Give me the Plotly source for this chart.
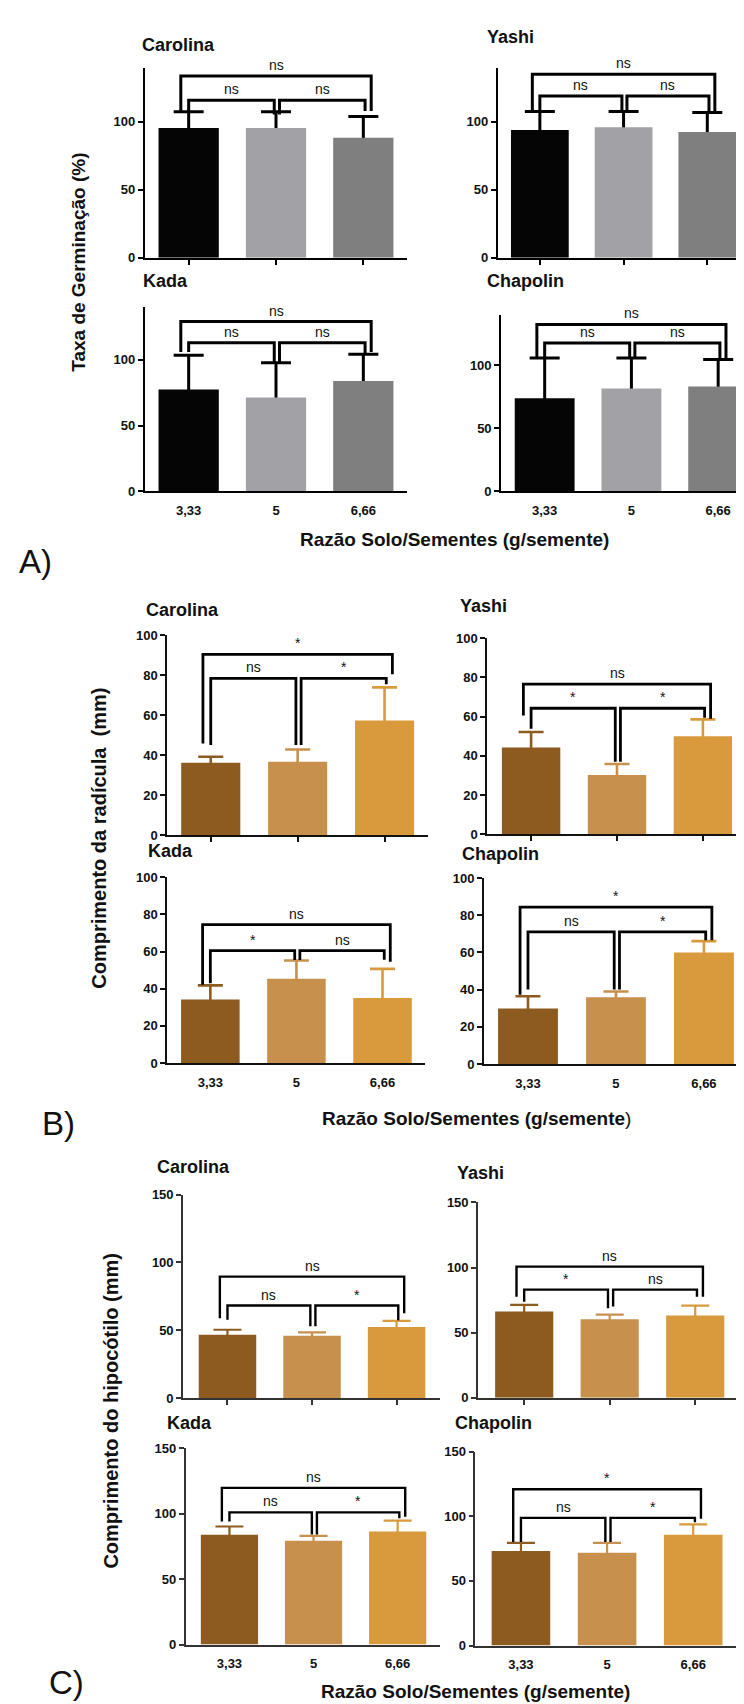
import plotly.graph_objects as go

W, H = 744, 1704
FONT = "Liberation Sans, Arial, Helvetica, sans-serif"

categories = ['3,33', '5', '6,66']
cultivars = ['Carolina', 'Yashi', 'Kada', 'Chapolin']

# ---- A) Taxa de Germinação (%) ----
germ_mean = [[95.6, 95.6, 88.3], [94.0, 96.0, 92.5], [77.4, 71.2, 83.8], [73.8, 81.6, 83.2]]
germ_sd = [[11.9, 11.9, 15.7], [13.6, 11.7, 14.5], [25.9, 26.5, 20.2], [31.9, 24.1, 21.2]]
germ_sig = [['ns', 'ns', 'ns'], ['ns', 'ns', 'ns'], ['ns', 'ns', 'ns'], ['ns', 'ns', 'ns']]
germ_bracket = [[133.8, 116.0], [135.0, 119.0], [128.9, 112.8], [132.2, 117.5]]
germ_legs = [[[108, 108], [107, 105.5], [105.5, 108]],
             [[108, 108], [108, 108], [108, 108]],
             [[105.8, 105.8], [105.8, 98], [98, 104.5]],
             [[105, 105], [105, 105], [105, 105]]]

# ---- B) Comprimento da radícula (mm) ----
radicle_mean = [[36.2, 36.7, 57.3], [44.3, 30.3, 50.0], [34.2, 45.4, 35.0], [29.9, 35.9, 59.9]]
radicle_sd = [[3.0, 6.1, 16.6], [7.9, 5.6, 8.6], [7.6, 9.8, 15.7], [6.5, 3.1, 6.2]]
radicle_sig = [['*', 'ns', '*'], ['ns', '*', '*'], ['ns', '*', 'ns'], ['*', 'ns', '*']]
radicle_bracket = [[90.4, 78.4], [76.6, 64.3], [74.5, 60.5], [84.4, 71.0]]
radicle_legs = [[[45.8, 80.5], [45, 45], [45, 75.5]],
                [[60.6, 59], [53.9, 37], [37, 59.4]],
                [[42.2, 54.6], [43, 55.5], [55.5, 55.6]],
                [[37.3, 66.6], [40, 40], [40, 66.5]]]

# ---- C) Comprimento do hipocótilo (mm) ----
hypo_mean = [[46.8, 46.1, 52.5], [66.2, 60.2, 63.2], [83.9, 79.3, 86.4], [73.0, 71.8, 85.7]]
hypo_sd = [[3.7, 2.5, 4.5], [5.1, 3.6, 7.5], [6.3, 3.8, 8.3], [6.4, 7.6, 8.0]]
hypo_sig = [['ns', 'ns', '*'], ['ns', '*', 'ns'], ['ns', 'ns', '*'], ['*', 'ns', '*']]
hypo_bracket = [[89.6, 68.3], [100.7, 83.0], [119.7, 101.0], [120.8, 98.7]]
hypo_legs = [[[59, 62.6], [57.8, 53], [53, 57.5]],
             [[77.5, 77.5], [73.7, 68.8], [70, 77.5]],
             [[94, 97.7], [94, 84], [84, 96.5]],
             [[80, 98], [80, 80], [80, 95.4]]]

gray_colors = ['#050505', '#a2a2a6', '#7f7f7f']
brown_colors = ['#8d5b1f', '#c7914d', '#d99a3d']

panels = [
    dict(mean=germ_mean, sd=germ_sd, sig=germ_sig, br=germ_bracket, legs=germ_legs,
         ymax=140, yticks=[0, 50, 100], colors=gray_colors, ecolors=['#000000'] * 3,
         blw=3.0, ew=3.0, cap=15, axw=2.2, axc='#000000', bw=0.69),
    dict(mean=radicle_mean, sd=radicle_sd, sig=radicle_sig, br=radicle_bracket, legs=radicle_legs,
         ymax=100, yticks=[0, 20, 40, 60, 80, 100], colors=brown_colors, ecolors=brown_colors,
         blw=2.8, ew=2.6, cap=12.5, axw=2.0, axc='#111111', bw=0.68),
    dict(mean=hypo_mean, sd=hypo_sd, sig=hypo_sig, br=hypo_bracket, legs=hypo_legs,
         ymax=150, yticks=[0, 50, 100, 150], colors=brown_colors, ecolors=brown_colors,
         blw=2.4, ew=2.2, cap=14, axw=1.6, axc='#333333', bw=0.68),
]

# subplot geometry in pixels: left, right, y of zero, y of top, x-range
geom = [
    (137, 399, 245, 53, -0.5, 2.5),
    (490, 742, 245, 53, -0.5, 2.51),
    (137, 399, 480.7, 294.5, -0.5, 2.5),
    (493.3, 744, 480.7, 302.3, -0.5, 2.39),
    (159.3, 420, 827.3, 625.7, -0.5, 2.5),
    (479.3, 741.7, 826.7, 628.7, -0.51, 2.545),
    (159.3, 416.7, 1057.3, 870, -0.5, 2.49),
    (476, 741.7, 1058.3, 870.7, -0.5, 2.52),
    (175, 431.7, 1395.7, 1190, -0.526, 2.51),
    (470, 730, 1395, 1198, -0.54, 2.5),
    (177.7, 431.7, 1644, 1446, -0.52, 2.5),
    (467.3, 730, 1645, 1449.3, -0.53, 2.52),
]

title_pos = [
    (132, 30), (476.7, 22), (133, 268.3), (476.7, 268.3),
    (136, 600.7), (450, 596), (138, 843.3), (451.7, 846.7),
    (146.7, 1162.7), (446.7, 1168.3), (156.7, 1420), (445, 1420),
]

# bracket x offsets relative to category centers: outer, inner-left, inner-right
br_pairs = [(0, 2, -0.09, 0.09), (0, 1, 0.0, -0.02), (1, 2, 0.04, 0.02)]

fig = go.Figure()
layout = dict(width=W, height=H, margin=dict(l=0, r=0, t=0, b=0),
              paper_bgcolor='white', plot_bgcolor='white', showlegend=False,
              barmode='overlay', font=dict(family=FONT, color='black'))
shapes = []
annotations = []


def px_x(p):
    return p / W


def px_y(p):
    return 1 - p / H


k = 0
for panel in panels:
    hide = panel['ymax'] * 0.04  # lower cap of the error bar hidden inside the bar
    for c in range(4):
        k += 1
        left, right, y0, ytop, xr0, xr1 = geom[k - 1]
        xa = 'x' if k == 1 else f'x{k}'
        ya = 'y' if k == 1 else f'y{k}'
        for i in range(3):
            m = panel['mean'][c][i]
            s = panel['sd'][c][i]
            # transparent carrier for the one-sided error bar (its lower cap sits inside the bar)
            fig.add_trace(go.Bar(
                x=[i], y=[m - hide], width=panel['bw'],
                marker=dict(color='rgba(0,0,0,0)', line=dict(width=0)),
                error_y=dict(type='data', symmetric=False, array=[s + hide],
                             arrayminus=[0], color=panel['ecolors'][i],
                             thickness=panel['ew'], width=panel['cap']),
                xaxis=xa, yaxis=ya, hoverinfo='skip'))
            fig.add_trace(go.Bar(
                x=[i], y=[m], width=panel['bw'],
                marker=dict(color=panel['colors'][i], line=dict(width=0)),
                xaxis=xa, yaxis=ya, hoverinfo='skip'))
        bottom = c >= 2
        layout['xaxis' if k == 1 else f'xaxis{k}'] = dict(
            domain=[px_x(left), min(px_x(right), 1.0)], range=[xr0, xr1], anchor=ya,
            tickvals=[0, 1, 2], ticktext=categories, showticklabels=bottom,
            ticks='outside', ticklen=6 if bottom else 5,
            tickcolor='rgba(0,0,0,0)' if bottom else panel['axc'], tickwidth=2,
            showline=True, linecolor=panel['axc'], linewidth=panel['axw'],
            showgrid=False, zeroline=False, fixedrange=True,
            tickfont=dict(family=FONT, size=13, color='#111111', weight='bold'))
        layout['yaxis' if k == 1 else f'yaxis{k}'] = dict(
            domain=[px_y(y0), px_y(ytop)], range=[0, panel['ymax']], anchor=xa,
            tickvals=panel['yticks'], ticks='outside', ticklen=5, tickwidth=2,
            tickcolor=panel['axc'], showline=True, linecolor=panel['axc'],
            linewidth=panel['axw'], showgrid=False, zeroline=False, fixedrange=True,
            tickfont=dict(family=FONT, size=13, color='#111111', weight='bold'))
        # significance brackets
        for b, (i0, i1, o0, o1) in enumerate(br_pairs):
            level = panel['br'][c][0 if b == 0 else 1]
            lb0, lb1 = panel['legs'][c][b]
            x0, x1 = i0 + o0, i1 + o1
            shapes.append(dict(type='path', xref=xa, yref=ya, layer='above',
                               path=f'M {x0},{lb0} L {x0},{level} L {x1},{level} L {x1},{lb1}',
                               line=dict(color='black', width=panel['blw'])))
            annotations.append(dict(xref=xa, yref=ya, x=(x0 + x1) / 2, y=level,
                                    text=panel['sig'][c][b], showarrow=False,
                                    xanchor='center', yanchor='bottom', yshift=1,
                                    font=dict(family=FONT, size=14, color='#111111')))
        # subplot title
        tx, ty = title_pos[k - 1]
        annotations.append(dict(xref='paper', yref='paper', x=px_x(tx), y=px_y(ty),
                                text=cultivars[c], showarrow=False, xanchor='left',
                                yanchor='middle',
                                font=dict(family=FONT, size=18, color='#111111', weight='bold')))

# axis titles
y_titles = [("Taxa de Germinação (%)", 71, 250, 19),
            ("Comprimento da radícula\u00a0 (mm)", 91, 831, 20),
            ("Comprimento do hipocótilo (mm)", 103, 1408, 20)]
for text, x, y, s in y_titles:
    annotations.append(dict(xref='paper', yref='paper', x=px_x(x), y=px_y(y), text=text,
                            textangle=-90, showarrow=False, xanchor='center', yanchor='middle',
                            font=dict(family=FONT, size=s, color='#111111', weight='bold')))

x_titles = [("<b>Razão Solo/Sementes (g/semente)</b>", 446, 528.7),
            ("<b>Razão Solo/Sementes (g/semente</b>)", 468, 1113.3),
            ("<b>Razão Solo/Sementes (g/semente)</b>", 467, 1691.7)]
for text, x, y in x_titles:
    annotations.append(dict(xref='paper', yref='paper', x=px_x(x), y=px_y(y), text=text,
                            showarrow=False, xanchor='center', yanchor='middle',
                            font=dict(family=FONT, size=19, color='#111111')))

panel_labels = [("A)", 27.5, 551, 'middle'), ("B)", 50, 1118, 'middle'), ("C)", 58, 1703, 'bottom')]
for text, x, y, ya in panel_labels:
    annotations.append(dict(xref='paper', yref='paper', x=px_x(x), y=px_y(y), text=text,
                            showarrow=False, xanchor='center', yanchor=ya,
                            font=dict(family=FONT, size=33, color='#111111')))

layout['shapes'] = shapes
layout['annotations'] = annotations
fig.update_layout(**layout)
fig.write_html("out.html")
